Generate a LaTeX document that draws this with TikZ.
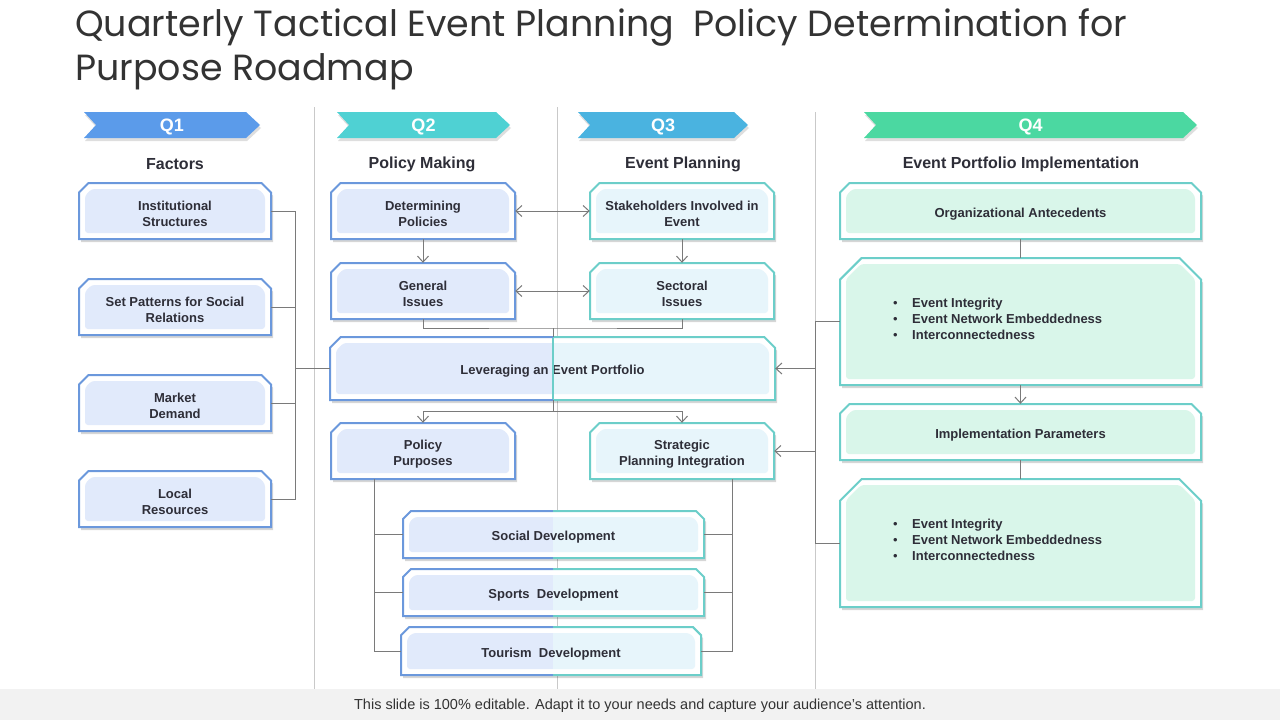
\documentclass[tikz,border=0pt]{standalone}
\usepackage{fontspec}
\setmainfont{Liberation Sans}
\newfontfamily\titlefont{Poppins}
\usetikzlibrary{arrows.meta}
\definecolor{bdB}{HTML}{6B98DC}
\definecolor{fiB}{HTML}{E1EAFB}
\definecolor{bdT}{HTML}{6CCEC9}
\definecolor{fiT}{HTML}{E7F5FB}
\definecolor{bdM}{HTML}{6CCEC9}
\definecolor{fiM}{HTML}{D9F6EA}
\definecolor{qA}{HTML}{5B9BEA}
\definecolor{qB}{HTML}{4FD1D3}
\definecolor{qC}{HTML}{4AB3E0}
\definecolor{qD}{HTML}{4BD8A1}
\definecolor{connc}{HTML}{7A7A7A}
\definecolor{divc}{HTML}{C9C9C9}
\definecolor{txtc}{HTML}{2E2E38}
\definecolor{titlec}{HTML}{333333}
\definecolor{footbg}{HTML}{F2F2F2}
\newcommand\cpath[5]{(#1,#4) -- (#1,{#2+#5}) -- ({#1+#5},#2) -- ({#3-#5},#2) -- (#3,{#2+#5}) -- (#3,#4) -- cycle}
\newcommand\halfbox[6]{%
  \draw[line width=2pt, draw=bd#1, fill=white] \cpath{#2}{#3}{#4}{#5}{#6};
  \fill[fi#1, rounded corners=3pt] \cpath{#2+6}{#3+6}{#4-6}{#5-6}{#6*0.7};
}
% #1 left scheme, #2 right scheme, #3 name, #4 x1, #5 y1, #6 x2, #7 y2, #8 split, #9 text
\newcommand\cbx[9]{%
  \pgfmathsetmacro\cc{(#7-#5)*0.17}%
  \pgfmathsetmacro\ww{#6-#4}%
  \pgfmathsetmacro\hh{#7-#5}%
  \fill[black,opacity=0.16] \cpath{#4+2}{#5+3}{#6+2}{#7+3}{\cc};
  \begin{scope}
    \clip ({#4-10},{#5-10}) rectangle (#8,{#7+10});
    \halfbox{#1}{#4}{#5}{#6}{#7}{\cc}
  \end{scope}
  \begin{scope}
    \clip (#8,{#5-10}) rectangle ({#6+10},{#7+10});
    \halfbox{#2}{#4}{#5}{#6}{#7}{\cc}
  \end{scope}
  \node[inner sep=0pt, minimum width=\ww pt, minimum height=\hh pt] (#3) at ({(#4+#6)/2},{(#5+#7)/2}) {};
  \node[boxtxt] (#3-t) at ({(#4+#6)/2},{(#5+#7)/2+3}) {#9};
}
% #1 name, #2 x1, #3 x2, #4 colour, #5 text
\newcommand\qbar[5]{%
  \fill[black,opacity=0.13] ({#2+1},115) -- ({#3-13},115) -- ({#3+1},128) -- ({#3-13},141) -- ({#2+1},141) -- ({#2+13},128) -- cycle;
  \fill[#4] (#2,112) -- ({#3-14},112) -- (#3,125) -- ({#3-14},138) -- (#2,138) -- ({#2+12},125) -- cycle;
  \node[qtxt] (#1) at ({(#2+#3)/2},127) {#5};
}
\begin{document}
\begin{tikzpicture}[x=1pt,y=-1pt,
  boxtxt/.style={font=\fontsize{13}{16}\selectfont\bfseries, text=txtc, align=center, inner sep=0pt},
  qtxt/.style={font=\fontsize{18}{20}\selectfont\bfseries, text=white, inner sep=0pt},
  head/.style={font=\fontsize{16}{18}\selectfont\bfseries, text=txtc, inner sep=0pt},
  conn/.style={draw=connc, line width=1pt},
  arr/.style={conn, -{Straight Barb[length=6pt,width=11pt]}},
  darr/.style={conn, {Straight Barb[length=6pt,width=11pt]}-{Straight Barb[length=6pt,width=11pt]}},
  divl/.style={draw=divc, line width=1pt}]
\useasboundingbox (0,0) rectangle (1280,720);
\fill[white] (0,0) rectangle (1280,720);
% title
\node[anchor=base west, inner sep=0pt, font=\titlefont\fontsize{36.4}{40}\selectfont, text=titlec] (t1) at (75,36) {Quarterly Tactical Event Planning \ Policy Determination for};
\node[anchor=base west, inner sep=0pt, font=\titlefont\fontsize{36.4}{40}\selectfont, text=titlec] (t2) at (75,80) {Purpose Roadmap};
% dividers
\draw[divl] (314,107) -- (314,689);
\draw[divl] (557,107) -- (557,689);
\draw[divl] (815,112) -- (815,689);
% banners
\qbar{q1}{84}{260}{qA}{Q1}
\qbar{q2}{337}{510}{qB}{Q2}
\qbar{q3}{578}{748}{qC}{Q3}
\qbar{q4}{864}{1197}{qD}{Q4}
% headings
\node[head] (h1) at (175,164) {Factors};
\node[head] (h2) at (422,164) {Policy Making};
\node[head] (h3) at (683,164) {Event Planning};
\node[head] (h4) at (1021,164) {Event Portfolio Implementation};
% Q1 boxes
\cbx{B}{B}{inst}{79}{183}{271}{239}{2000}{Institutional\\Structures}
\cbx{B}{B}{setp}{79}{279}{271}{335}{2000}{Set Patterns for\ Social\\Relations}
\cbx{B}{B}{mkt}{79}{375}{271}{431}{2000}{Market\\Demand}
\cbx{B}{B}{locr}{79}{471}{271}{527}{2000}{Local\\Resources}
% Q2/Q3 boxes
\cbx{B}{B}{det}{331}{183}{515}{239}{2000}{Determining\\Policies}
\cbx{B}{B}{gen}{331}{263}{515}{319}{2000}{General\\Issues}
\cbx{T}{T}{stk}{590}{183}{774}{239}{2000}{Stakeholders Involved in\\Event}
\cbx{T}{T}{sec}{590}{263}{774}{319}{2000}{Sectoral\\Issues}
\cbx{B}{T}{lev}{330}{337}{775}{400}{553}{Leveraging an Event Portfolio}
\draw[bdT, line width=2pt] (553,338) -- (553,399);
\cbx{B}{B}{pp}{331}{423}{515}{479}{2000}{Policy\\Purposes}
\cbx{T}{T}{spi}{590}{423}{774}{479}{2000}{Strategic\\Planning Integration}
\cbx{B}{T}{soc}{403}{511}{704}{558}{553}{Social Development}
\cbx{B}{T}{spo}{403}{569}{704}{616}{553}{Sports\ \ Development}
\cbx{B}{T}{tou}{401}{627}{701}{675}{553}{Tourism\ \ Development}
% Q4 boxes
\cbx{M}{M}{org}{840}{183}{1201}{239}{2000}{Organizational Antecedents}
\cbx{M}{M}{bx1}{840}{258}{1201}{385}{2000}{}
\cbx{M}{M}{imp}{840}{404}{1201}{460}{2000}{Implementation Parameters}
\cbx{M}{M}{bx2}{840}{479}{1201}{607}{2000}{}
\node[boxtxt, align=left, anchor=west] (bl1) at (893,319) {\makebox[19pt][l]{\normalfont\textbullet}Event Integrity\\\makebox[19pt][l]{\normalfont\textbullet}Event Network Embeddedness\\\makebox[19pt][l]{\normalfont\textbullet}Interconnectedness};
\node[boxtxt, align=left, anchor=west] (bl2) at (893,540) {\makebox[19pt][l]{\normalfont\textbullet}Event Integrity\\\makebox[19pt][l]{\normalfont\textbullet}Event Network Embeddedness\\\makebox[19pt][l]{\normalfont\textbullet}Interconnectedness};
% helper coordinates
\coordinate (c295) at (295,0);
\coordinate (c374) at (374,0);
\coordinate (c553) at (553,0);
\coordinate (c732) at (732,0);
\coordinate (c815) at (815,0);
\coordinate (j1) at (553,328);
\coordinate (j2) at (553,411);
% Q1 bus
\draw[conn] (inst.east) -| (locr.east -| c295) -- (locr.east);
\draw[conn] (setp.east) -- (setp.east -| c295);
\draw[conn] (mkt.east) -- (mkt.east -| c295);
\draw[conn] (lev.west -| c295) -- (lev.west);
% Q2/Q3 links
\draw[darr] (det.east) -- (stk.west);
\draw[darr] (gen.east) -- (sec.west);
\draw[arr] (det.south) -- (gen.north);
\draw[arr] (stk.south) -- (sec.north);
\draw[conn] (gen.south) |- (j1) -| (sec.south);
\draw[conn] (j1) -- (lev.north -| j1);
\draw[conn] (lev.south -| j2) -- (j2);
\draw[arr] (j2) -| (pp.north);
\draw[arr] (j2) -| (spi.north);
% development buses
\draw[conn] (pp.south -| c374) |- (tou.west);
\draw[conn] (soc.west -| c374) -- (soc.west);
\draw[conn] (spo.west -| c374) -- (spo.west);
\draw[conn] (spi.south -| c732) |- (tou.east);
\draw[conn] (soc.east) -- (soc.east -| c732);
\draw[conn] (spo.east) -- (spo.east -| c732);
% Q4 links
\draw[conn] (org.south) -- (bx1.north);
\draw[arr] (bx1.south) -- (imp.north);
\draw[conn] (imp.south) -- (bx2.north);
\draw[conn] (bx1.west) -- (bx1.west -| c815) |- (bx2.west);
\draw[arr] (lev.east -| c815) -- (lev.east);
\draw[arr] (spi.east -| c815) -- (spi.east);
% footer
\fill[footbg] (0,689) rectangle (1280,720);
\node[font=\fontsize{14.5}{16}\selectfont, text=titlec, inner sep=0pt] (foot) at (640,706) {This slide is 100\% editable. Adapt it to your needs and capture your audience's attention.};
\end{tikzpicture}
\end{document}
